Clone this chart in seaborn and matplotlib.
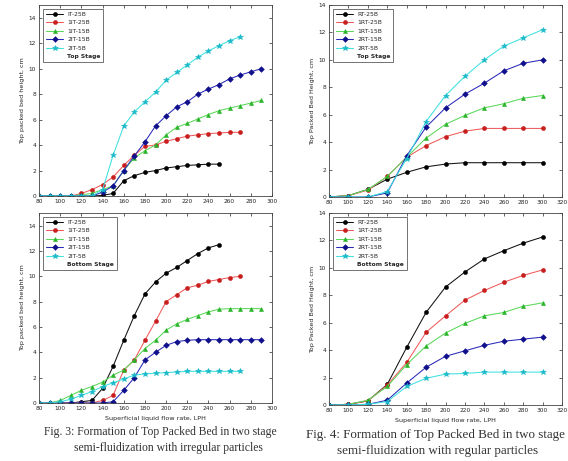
import matplotlib
matplotlib.use("Agg")
import matplotlib.pyplot as plt
import seaborn as sns
import pandas as pd

sns.set_theme(style="white")
plt.rcParams['font.family'] = ['DejaVu Sans']

# ---------------- data ----------------
x_irr = [80, 90, 100, 110, 120, 130, 140, 150, 160, 170, 180, 190, 200, 210,
         220, 230, 240, 250, 260, 270, 280, 290]
x_reg = [80, 100, 120, 140, 160, 180, 200, 220, 240, 260, 280, 300]

labels_irr = ["IT-25B", "1IT-25B", "1IT-15B", "2IT-15B", "2IT-5B"]
labels_reg = ["RT-25B", "1RT-25B", "1RT-15B", "2RT-15B", "2RT-5B"]

# Fig 3 top stage (irregular)
tl_it25 = [0, 0, 0, 0, 0, 0, 0.05, 0.2, 1.2, 1.6, 1.85, 2.0, 2.2, 2.3, 2.4, 2.45, 2.5, 2.5]
tl_1it25 = [0, 0, 0, 0, 0.2, 0.5, 0.9, 1.5, 2.4, 3.2, 3.9, 4.0, 4.3, 4.5, 4.7, 4.8, 4.9, 4.95, 5.0, 5.0]
tl_1it15 = [0, 0, 0, 0, 0.1, 0.2, 0.5, 0.8, 2.0, 3.0, 3.55, 4.0, 4.8, 5.4, 5.7, 6.05, 6.4, 6.7, 6.9, 7.1, 7.3, 7.5]
tl_2it15 = [0, 0, 0, 0, 0, 0, 0.3, 0.8, 2.0, 3.15, 4.25, 5.5, 6.3, 7.0, 7.4, 8.0, 8.4, 8.75, 9.2, 9.5, 9.75, 10.0]
tl_2it5 = [0, 0, 0, 0, 0, 0, 0.5, 3.2, 5.5, 6.6, 7.4, 8.15, 9.1, 9.7, 10.3, 10.9, 11.4, 11.8, 12.2, 12.5]

# Fig 3 bottom stage (irregular)
bl_it25 = [0, 0, 0, 0, 0.1, 0.2, 1.15, 2.9, 4.95, 6.9, 8.6, 9.55, 10.25, 10.7, 11.25, 11.8, 12.25, 12.5]
bl_1it25 = [0, 0, 0, 0, 0, 0, 0.2, 0.6, 2.6, 3.4, 4.95, 6.45, 8.0, 8.55, 9.1, 9.3, 9.6, 9.75, 9.9, 10.0]
bl_1it15 = [0, 0, 0.2, 0.6, 1.0, 1.3, 1.65, 2.2, 2.6, 3.4, 4.3, 4.95, 5.75, 6.25, 6.6, 6.9, 7.2, 7.4, 7.45, 7.45, 7.45, 7.45]
bl_2it15 = [0, 0, 0, 0, 0, 0, 0, 0.1, 1.0, 2.0, 3.4, 4.0, 4.55, 4.85, 4.95, 5.0, 5.0, 5.0, 5.0, 5.0, 5.0, 5.0]
bl_2it5 = [0, 0, 0.1, 0.3, 0.6, 0.9, 1.3, 1.6, 1.9, 2.2, 2.3, 2.35, 2.4, 2.45, 2.5, 2.5, 2.5, 2.5, 2.5, 2.5]

# Fig 4 top stage (regular)
tr_rt25 = [0, 0.1, 0.55, 1.3, 1.8, 2.2, 2.4, 2.5, 2.5, 2.5, 2.5, 2.5]
tr_1rt25 = [0, 0.1, 0.5, 1.5, 2.9, 3.75, 4.4, 4.8, 5.0, 5.0, 5.0, 5.0]
tr_1rt15 = [0, 0.1, 0.55, 1.5, 2.9, 4.3, 5.3, 5.95, 6.5, 6.8, 7.2, 7.4]
tr_2rt15 = [0, 0, 0, 0.3, 3.0, 5.1, 6.5, 7.5, 8.3, 9.2, 9.75, 10.0]
tr_2rt5 = [0, 0, 0, 0.4, 2.8, 5.5, 7.4, 8.8, 10.0, 11.0, 11.6, 12.2]

# Fig 4 bottom stage (regular)
br_rt25 = [0, 0.05, 0.3, 1.5, 4.2, 6.75, 8.6, 9.7, 10.65, 11.25, 11.8, 12.25]
br_1rt25 = [0, 0.05, 0.3, 1.45, 3.1, 5.3, 6.5, 7.65, 8.35, 8.95, 9.45, 9.85]
br_1rt15 = [0, 0.05, 0.35, 1.35, 2.95, 4.3, 5.25, 5.95, 6.5, 6.75, 7.2, 7.45]
br_2rt15 = [0, 0, 0.05, 0.35, 1.6, 2.75, 3.55, 3.95, 4.35, 4.65, 4.8, 4.95]
br_2rt5 = [0, 0, 0.05, 0.25, 1.35, 1.95, 2.25, 2.3, 2.4, 2.4, 2.4, 2.4]

line_colors = ["#111111", "#f05a5a", "#5ad85a", "#2a2ab8", "#3ee0e0"]
marker_colors = ["#000000", "#c81e1e", "#28b428", "#10108c", "#18b8c8"]
markers = ["o", "o", "^", "D", "*"]

W, H = 568, 461
fig = plt.figure(figsize=(W / 100, H / 100), dpi=100)


def make_ax(l, t, r, b):
    return fig.add_axes([l / W, 1 - b / H, (r - l) / W, (b - t) / H])


def draw(ax, xs, series, labels, stage, ylab, xmax, ymax, xlabel):
    for i, (ys, lab) in enumerate(zip(series, labels)):
        df = pd.DataFrame({"x": xs[:len(ys)], "y": ys})
        sns.lineplot(data=df, x="x", y="y", ax=ax, color=line_colors[i],
                     lw=0.75, marker=markers[i], markersize=2.9 if markers[i] != "*" else 4.2,
                     markerfacecolor=marker_colors[i], markeredgecolor=marker_colors[i],
                     markeredgewidth=0.4, label=lab)
    ax.plot([], [], ' ', label=stage)
    ax.set_xlim(80, xmax)
    ax.set_ylim(0, ymax)
    ax.set_xticks(list(range(80, xmax + 1, 20)))
    ax.set_yticks(list(range(0, 15, 2)))
    ax.tick_params(direction="in", length=2.5, width=0.5, labelsize=4.2, pad=2,
                   top=True, right=True, bottom=True, left=True)
    for sp in ax.spines.values():
        sp.set_linewidth(0.6)
        sp.set_color("#444444")
    ax.set_ylabel(ylab, fontsize=4.6, labelpad=3)
    ax.set_xlabel(xlabel, fontsize=4.6, labelpad=4)
    leg = ax.legend(loc="upper left", fontsize=4.3, frameon=True, fancybox=False,
                    edgecolor="#333333", borderpad=0.5, handlelength=3.0,
                    labelspacing=0.55, handletextpad=0.6, borderaxespad=0.6)
    leg.get_frame().set_linewidth(0.6)
    leg.get_texts()[-1].set_fontweight("bold")


ylab_l = "Top packed bed height, cm"
ylab_r = "Top Packed Bed Height, cm"
xlab = "Superficial liquid flow rate, LPH"

ax1 = make_ax(39, 5, 272, 196)
draw(ax1, x_irr, [tl_it25, tl_1it25, tl_1it15, tl_2it15, tl_2it5], labels_irr,
     "Top Stage", ylab_l, 300, 15, "")
ax2 = make_ax(329, 5, 562, 197)
draw(ax2, x_reg, [tr_rt25, tr_1rt25, tr_1rt15, tr_2rt15, tr_2rt5], labels_reg,
     "Top Stage", ylab_r, 320, 14, "")
ax3 = make_ax(39, 213, 272, 403)
draw(ax3, x_irr, [bl_it25, bl_1it25, bl_1it15, bl_2it15, bl_2it5], labels_irr,
     "Bottom Stage", ylab_l, 300, 15, xlab)
ax4 = make_ax(329, 213, 562, 405)
draw(ax4, x_reg, [br_rt25, br_1rt25, br_1rt15, br_2rt15, br_2rt5], labels_reg,
     "Bottom Stage", ylab_r, 320, 14, xlab)

capL = dict(fontsize=8.4, family=["Liberation Serif"], color="#333333", ha="center", va="center")
capR = dict(fontsize=9.4, family=["Liberation Serif"], color="#333333", ha="center", va="center")
fig.text(160 / W, 1 - 432 / H, "Fig. 3: Formation of Top Packed Bed in two stage", **capL)
fig.text(168 / W, 1 - 448 / H, "semi-fluidization with irregular particles", **capL)
fig.text(435 / W, 1 - 435 / H, "Fig. 4: Formation of Top Packed Bed in two stage", **capR)
fig.text(438 / W, 1 - 451 / H, "semi-fluidization with regular particles", **capR)

fig.savefig("out.png", dpi=100)
